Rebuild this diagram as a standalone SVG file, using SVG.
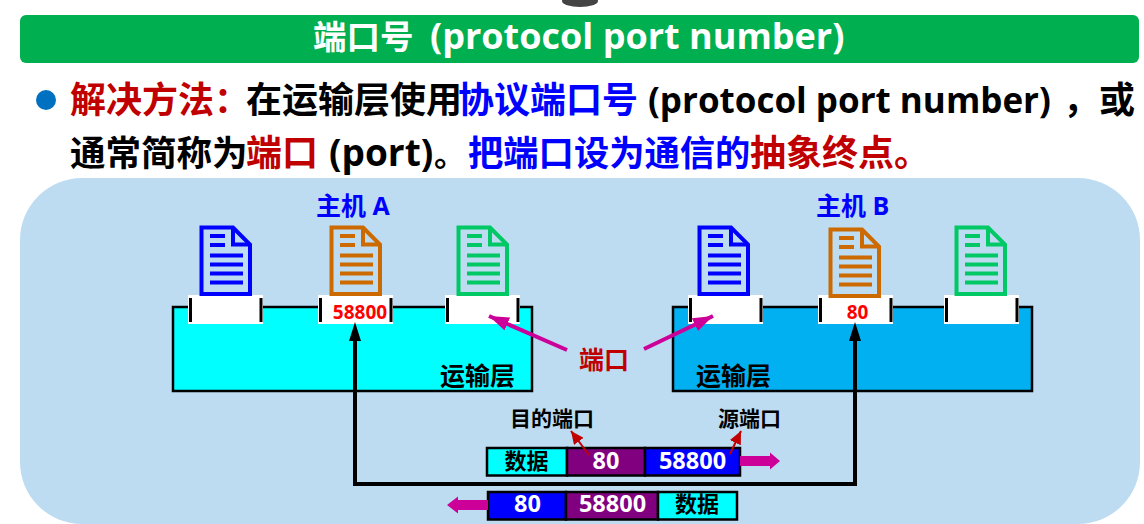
<svg xmlns="http://www.w3.org/2000/svg" width="1144" height="524" viewBox="0 0 1144 524">
<style>
text{font-family:"Open Sans","Noto Sans CJK SC",sans-serif;font-weight:700}
.r{fill:#c00000}.b{fill:#0000ff}.k{fill:#000}.w{fill:#fff}
.h1{font-size:33.500px}.h2{font-size:36px}
.lh1{font-size:36px}.lh2{font-size:35px}.lh3{font-size:37px}
.host{font-size:25px;fill:#0000ff}
.lay{font-size:25px;fill:#000}
.num{font-size:19px;fill:#f00;text-anchor:middle}
.cell{stroke:#000;stroke-width:2.5}
.pk{font-size:22px;text-anchor:middle}
.nm{font-size:23.500px}
.lab{font-size:21px;fill:#000}
.doc{fill:none;stroke-width:4}
.doc .l{stroke-width:2.600}
.tick{stroke:#000;stroke-width:3}
.port{fill:#fff}
</style>
<defs>
<g id="docicon">
<path d="M1.500 1.500H33L50 18.500V68H1.500Z"/>
<path d="M33 1.500V18.500H50"/>
<path class="l" d="M10 10H25M10 19H25M10 29.500H43M10 38.500H43M10 47.500H43M10 56.500H43"/>
</g>
<g id="portslot">
<rect class="port" x="0" y="0" width="75" height="29"/>
<path class="tick" d="M2.500 3V27M73 3V27"/>
</g>
<marker id="hm" viewBox="0 0 20 14" markerUnits="userSpaceOnUse" markerWidth="20" markerHeight="14" refX="20" refY="7" orient="auto"><path d="M0 0 20 7 0 14Z" fill="#cc0099"/></marker>
<marker id="hr" viewBox="0 0 13 12" markerUnits="userSpaceOnUse" markerWidth="13" markerHeight="12" refX="13" refY="6" orient="auto"><path d="M0 0 13 6 0 12Z" fill="#c00000"/></marker>
</defs>
<ellipse cx="580" cy="1" rx="18" ry="6" fill="#444"/>
<g id="title">
<rect x="20" y="15" width="1119" height="48" rx="6" fill="#00b050"/>
<text class="w" y="49"><tspan class="h1" x="313">端口号</tspan><tspan class="lh1" x="430">(protocol port number)</tspan></text>
</g>
<g id="body">
<circle cx="46" cy="100" r="10" fill="#0070c0"/>
<text class="h2" y="113"><tspan class="r" x="70">解决方法：</tspan><tspan class="k" x="246">在运输层使用</tspan><tspan class="b" x="458">协议端口号</tspan><tspan class="k lh2" x="648">(protocol port number)</tspan><tspan class="k" x="1063">，</tspan><tspan class="k" x="1099">或</tspan></text>
<text class="h2" y="166"><tspan class="k" x="70" font-size="35.500">通常简称为</tspan><tspan class="r" x="246">端口</tspan><tspan class="k lh3" x="329">(port)</tspan><tspan class="k" x="434" style="font-size:32px">。</tspan><tspan class="b" x="468" style="font-size:35.300px">把端口设为通信的</tspan><tspan class="r" x="750">抽象终点。</tspan></text>
</g>
<rect id="panel" x="20" y="178" width="1120" height="346" rx="62" fill="#bddcf2"/>
<g id="host-a">
<rect x="173" y="307" width="359" height="84" fill="#00ffff" stroke="#000" stroke-width="2.500"/>
<use href="#portslot" x="188" y="295"/>
<use href="#portslot" x="318" y="295"/>
<use href="#portslot" x="445" y="295"/>
<use href="#docicon" x="200" y="226" class="doc" stroke="#0000ff"/>
<use href="#docicon" x="330" y="226" class="doc" stroke="#cc6a00"/>
<use href="#docicon" x="457" y="226" class="doc" stroke="#00c864"/>
<text class="host" x="316" y="215">主机 A</text>
<text class="num" x="360" y="319">58800</text>
<text class="lay" x="440" y="385">运输层</text>
</g>
<g id="host-b">
<rect x="673" y="307" width="359" height="84" fill="#00b0f0" stroke="#000" stroke-width="2.500"/>
<use href="#portslot" x="688" y="295"/>
<use href="#portslot" x="818" y="295"/>
<use href="#portslot" x="944" y="295"/>
<use href="#docicon" x="698" y="226" class="doc" stroke="#0000ff"/>
<use href="#docicon" x="829" y="228" class="doc" stroke="#cc6a00"/>
<use href="#docicon" x="955" y="226" class="doc" stroke="#00c864"/>
<text class="host" x="816" y="215">主机 B</text>
<text class="num" x="857.500" y="319">80</text>
<text class="lay" x="696" y="385">运输层</text>
</g>
<g id="packet-1">
<rect class="cell" x="487" y="448" width="80" height="27.500" fill="#00ffff"/>
<rect class="cell" x="567" y="448" width="78" height="27.500" fill="#800080"/>
<rect class="cell" x="645" y="448" width="95" height="27.500" fill="#0000ff"/>
<text class="pk k" x="526.500" y="469">数据</text>
<text class="pk w nm" x="606" y="469">80</text>
<text class="pk w nm" x="692.500" y="469">58800</text>
</g>
<g id="packet-2">
<rect class="cell" x="488" y="492" width="78" height="27.500" fill="#0000ff"/>
<rect class="cell" x="566" y="492" width="92" height="27.500" fill="#800080"/>
<rect class="cell" x="658" y="492" width="79" height="27.500" fill="#00ffff"/>
<text class="pk w nm" x="527.500" y="512">80</text>
<text class="pk w nm" x="612.500" y="512">58800</text>
<text class="pk k" x="697" y="512">数据</text>
</g>
<g id="connectors" fill="none">
<path d="M355 341V484H855V341" stroke="#000" stroke-width="4"/>
<path d="M355 322 361 341H349ZM855 322 861 341H849Z" fill="#000"/>
<path d="M567 350 489 316" stroke="#cc0099" stroke-width="4" marker-end="url(#hm)"/>
<path d="M644 349 713 316" stroke="#cc0099" stroke-width="4" marker-end="url(#hm)"/>
<path d="M589 455 571 431" stroke="#c00000" stroke-width="2" marker-end="url(#hr)"/>
<path d="M730 454 741 431" stroke="#c00000" stroke-width="2" marker-end="url(#hr)"/>
<path d="M740 456H770V452.500L780 461 770 469.500V466H740Z" fill="#cc0099"/>
<path d="M488 500H458V496.500L447 505 458 513.500V510H488Z" fill="#cc0099"/>
</g>
<text id="port-label" x="579" y="369" font-size="25" class="r">端口</text>
<g id="labels">
<text class="lab" x="510" y="426">目的端口</text>
<text class="lab" x="718" y="426">源端口</text>
</g>
</svg>
